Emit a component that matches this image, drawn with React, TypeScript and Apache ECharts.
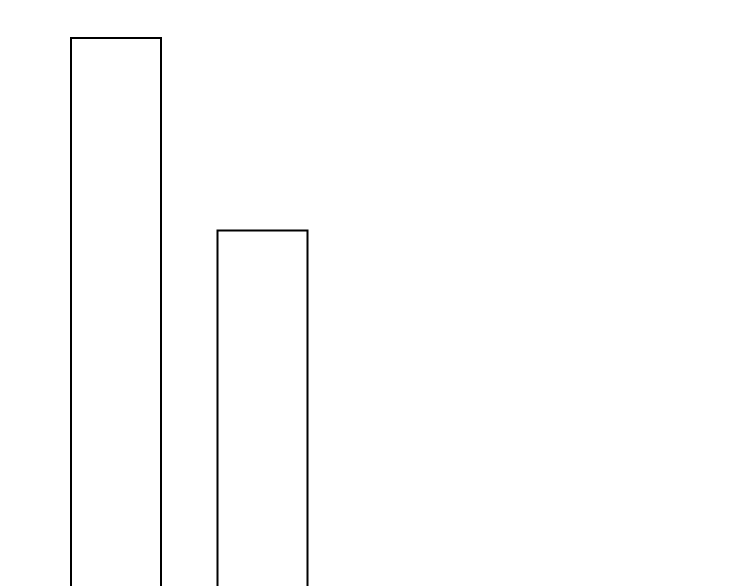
import { useEffect, useRef } from "react";
import * as echarts from "echarts";

const categories = ["A", "B"];
const values = [10, 7];

export default function App() {
  const chartRef = useRef<HTMLDivElement>(null);

  useEffect(() => {
    if (!chartRef.current) return;
    const chart = echarts.init(chartRef.current, undefined, { renderer: "svg" });
    chart.setOption({
      animation: false,
      grid: { left: 42.75, top: 37, width: 293, bottom: 0 },
      xAxis: {
        type: "category",
        data: categories,
        show: false,
      },
      yAxis: {
        type: "value",
        min: 0,
        max: 10,
        show: false,
      },
      series: [
        {
          type: "bar",
          data: values,
          barWidth: 92,
          itemStyle: {
            color: "transparent",
            borderColor: "#000",
            borderWidth: 2,
          },
        },
      ],
    });
    return () => chart.dispose();
  }, []);

  // chart is taller than the window so the bars run off the bottom edge
  return (
    <div
      ref={chartRef}
      style={{ position: "fixed", left: 0, top: 0, width: 750, height: 679 }}
    />
  );
}
